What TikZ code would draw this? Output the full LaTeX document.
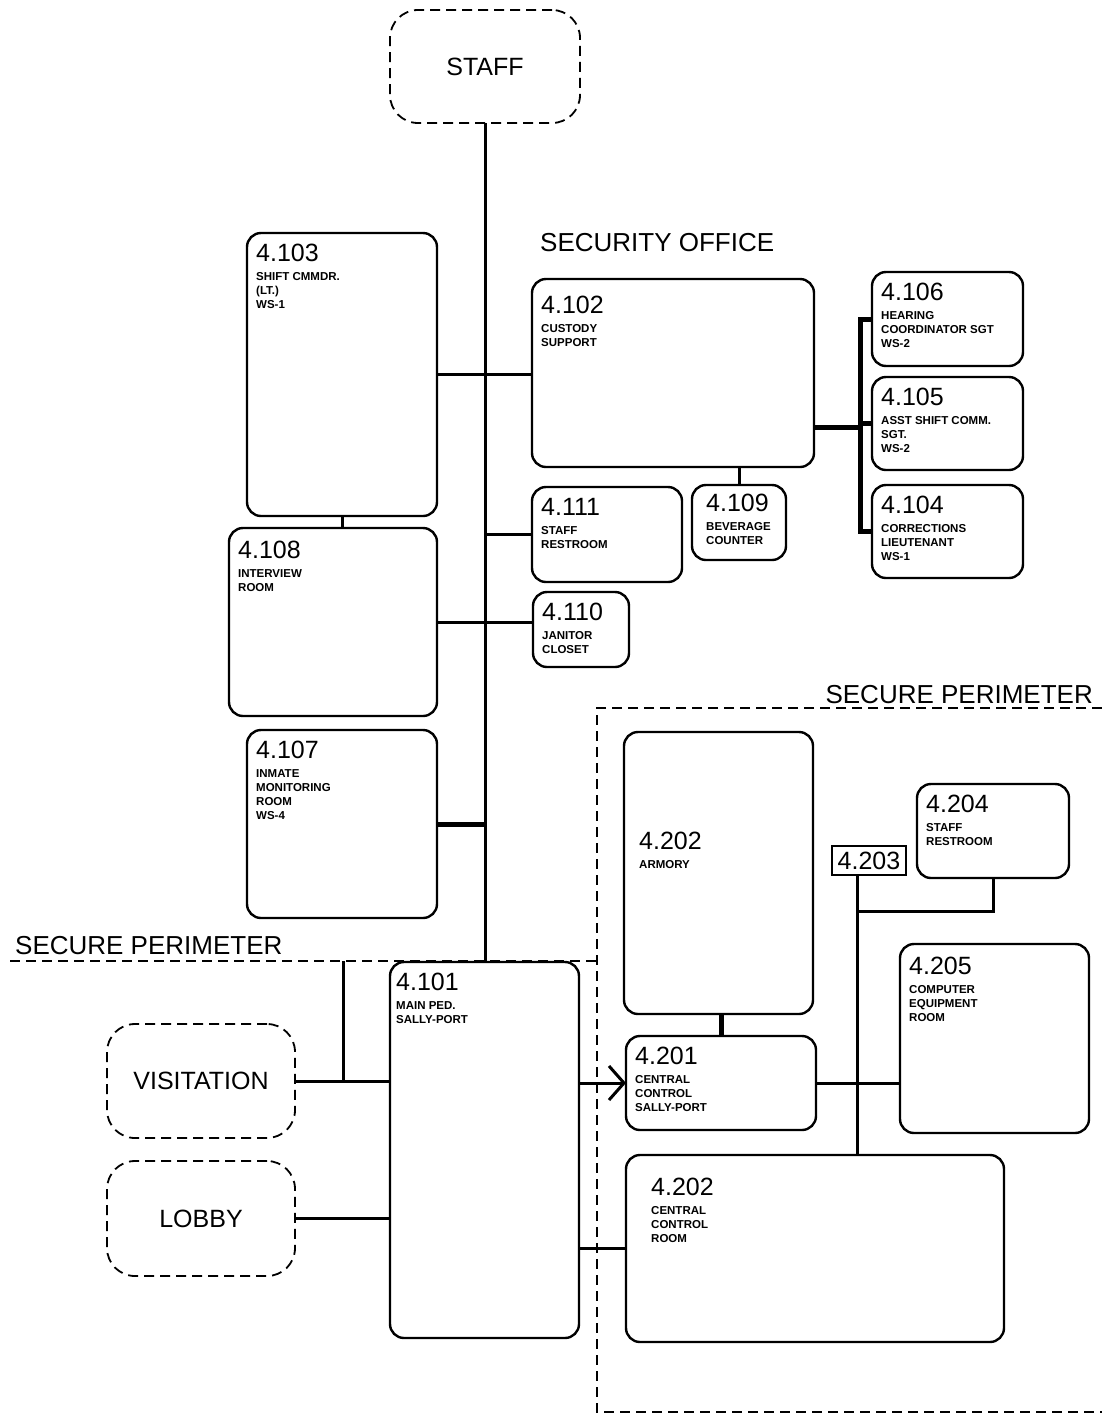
\documentclass[tikz,border=0pt]{standalone}
\usepackage{fontspec}
\setmainfont{Liberation Sans}
\usetikzlibrary{arrows.meta}

\newcommand{\rnum}[1]{{\mdseries\fontsize{25}{25}\selectfont #1}}

\begin{document}
\begin{tikzpicture}[
    x=1pt, y=-1pt,
    room/.style={rectangle, rounded corners=14pt, draw=black, line width=2.4pt, anchor=north west, inner sep=0pt, outer sep=0pt},
    zone/.style={room, rounded corners=28pt, line width=1.8pt, dash pattern=on 10pt off 6pt, font=\fontsize{25}{25}\selectfont},
    tag/.style={rectangle, draw=black, line width=2pt, anchor=north west, inner sep=0pt, outer sep=0pt, font=\fontsize{25}{25}\selectfont},
    roomtext/.style={anchor=north west, align=left, inner sep=0pt, xshift=9pt, yshift=-11pt, font=\bfseries\fontsize{11.5}{14}\selectfont},
    title/.style={inner sep=0pt, font=\fontsize{26}{26}\selectfont},
    link/.style={line width=3pt},
    thicklink/.style={line width=5pt},
    perimeter/.style={line width=1.8pt, dash pattern=on 10pt off 6pt},
    arrow/.style={-{Straight Barb[length=15pt, width=34pt]}, line width=3pt}
]
\useasboundingbox (0,0) rectangle (1102,1414);

% Outside zones
\node[zone, minimum width=190pt, minimum height=113pt] (staff) at (390,10) {STAFF};
\node[zone, minimum width=188pt, minimum height=114pt] (visit) at (107,1024) {VISITATION};
\node[zone, minimum width=188pt, minimum height=115pt] (lobby) at (107,1161) {LOBBY};

% Security office
\node[title, anchor=base west] (so) at (540,251) {SECURITY OFFICE};
\node[room, minimum width=190pt, minimum height=283pt,
    label={[roomtext]north west:{\rnum{4.103}\\[5pt]SHIFT CMMDR.\\(LT.)\\WS-1}}] (sc) at (247,233) {};
\node[room, minimum width=282pt, minimum height=188pt,
    label={[roomtext, yshift=-6pt]north west:{\rnum{4.102}\\[5pt]CUSTODY\\SUPPORT}}] (cs) at (532,279) {};
\node[room, minimum width=151pt, minimum height=94pt,
    label={[roomtext]north west:{\rnum{4.106}\\[5pt]HEARING\\COORDINATOR SGT\\WS-2}}] (hc) at (872,272) {};
\node[room, minimum width=151pt, minimum height=93pt,
    label={[roomtext]north west:{\rnum{4.105}\\[5pt]ASST SHIFT COMM.\\SGT.\\WS-2}}] (as) at (872,377) {};
\node[room, minimum width=151pt, minimum height=93pt,
    label={[roomtext]north west:{\rnum{4.104}\\[5pt]CORRECTIONS\\LIEUTENANT\\WS-1}}] (cl) at (872,485) {};
\node[room, minimum width=94pt, minimum height=75pt,
    label={[roomtext, xshift=5pt, yshift=2pt]north west:{\rnum{4.109}\\[5pt]BEVERAGE\\COUNTER}}] (bc) at (692,485) {};
\node[room, minimum width=150pt, minimum height=95pt,
    label={[roomtext]north west:{\rnum{4.111}\\[5pt]STAFF\\RESTROOM}}] (sr) at (532,487) {};
\node[room, minimum width=208pt, minimum height=188pt,
    label={[roomtext, yshift=-2pt]north west:{\rnum{4.108}\\[5pt]INTERVIEW\\ROOM}}] (ir) at (229,528) {};
\node[room, minimum width=96pt, minimum height=75pt,
    label={[roomtext]north west:{\rnum{4.110}\\[5pt]JANITOR\\CLOSET}}] (jc) at (533,592) {};
\node[room, minimum width=190pt, minimum height=188pt,
    label={[roomtext]north west:{\rnum{4.107}\\[5pt]INMATE\\MONITORING\\ROOM\\WS-4}}] (im) at (247,730) {};

% Perimeter
\node[title, anchor=base west] (spl) at (15,954) {SECURE PERIMETER};
\node[title, anchor=base east] (spr) at (1093,703) {SECURE PERIMETER};
\draw[perimeter] (10,961) -- (597,961);
\draw[perimeter] (1102,708) -- (597,708) -- (597,1412) -- (1102,1412);
\coordinate (pv) at (343,961);

\node[room, minimum width=189pt, minimum height=376pt,
    label={[roomtext, xshift=-3pt]north west:{\rnum{4.101}\\[5pt]MAIN PED.\\SALLY-PORT}}] (ms) at (390,962) {};

% Inside secure perimeter
\node[room, minimum width=189pt, minimum height=282pt,
    label={[roomtext, xshift=6pt, yshift=-89pt]north west:{\rnum{4.202}\\[5pt]ARMORY}}] (ar) at (624,732) {};
\node[room, minimum width=190pt, minimum height=94pt,
    label={[roomtext]north west:{\rnum{4.201}\\[5pt]CENTRAL\\CONTROL\\SALLY-PORT}}] (cc) at (626,1036) {};
\node[tag, minimum width=74pt, minimum height=29pt] (ct) at (832,846) {4.203};
\node[room, minimum width=152pt, minimum height=94pt,
    label={[roomtext]north west:{\rnum{4.204}\\[5pt]STAFF\\RESTROOM}}] (sr2) at (917,784) {};
\node[room, minimum width=189pt, minimum height=189pt,
    label={[roomtext, yshift=-2pt]north west:{\rnum{4.205}\\[5pt]COMPUTER\\EQUIPMENT\\ROOM}}] (ce) at (900,944) {};
\node[room, minimum width=378pt, minimum height=187pt,
    label={[roomtext, xshift=16pt, yshift=-12pt]north west:{\rnum{4.202}\\[5pt]CENTRAL\\CONTROL\\ROOM}}] (cr) at (626,1155) {};

% Main spine
\draw[link] (staff.south) -- (staff.south |- ms.north);
\draw[link] (sc.east) -- (sc.east -| cs.west);
\draw[link] (sr.west) -- (sr.west -| staff.south);
\draw[link] (ir.east) -- (ir.east -| jc.west);
\draw[thicklink] (im.east) -- (im.east -| staff.south);
\draw[link] (sc.south) -- (sc.south |- ir.north);
\draw[link] (cs.south -| bc.north) -- (bc.north);

% Bracket to side offices
\coordinate (br) at (860,427);
\draw[thicklink] (cs.east |- br) -- (br);
\draw[thicklink] (hc.west) -| (br) |- (cl.west);
\draw[thicklink] (as.west) -- (as.west -| br);

% Entry side
\draw[link] (visit.east) -- (visit.east -| ms.west);
\draw[link] (pv) -- (pv |- visit.east);
\draw[link] (lobby.east) -- (lobby.east -| ms.west);
\draw[arrow] (cc.west -| ms.east) -- (cc.west);
\draw[link] (cr.west) -- (cr.west -| ms.east);

% Control area
\draw[thicklink] (ar.south -| 721,0) -- (cc.north -| 721,0);
\coordinate (spn) at (857,875);
\coordinate (tee) at (857,911);
\draw[link] (spn) -- (spn |- cr.north);
\draw[link] (tee) -| (sr2.south);
\draw[link] (cc.east) -- (cc.east -| ce.west);

\end{tikzpicture}
\end{document}
